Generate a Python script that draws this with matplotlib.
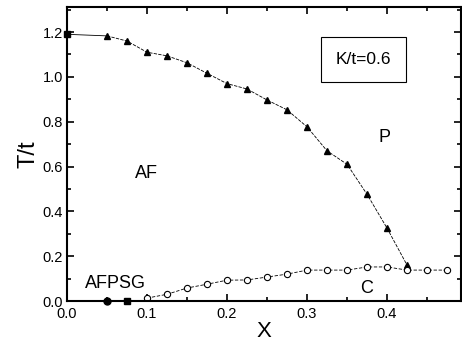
import matplotlib
matplotlib.use("Agg")
import matplotlib.pyplot as plt
from matplotlib.ticker import MultipleLocator

plt.rcParams['font.family'] = ['Liberation Sans', 'DejaVu Sans']

# AF -> P transition (filled triangles)
x_tn = [0.0, 0.05, 0.075, 0.1, 0.125, 0.15, 0.175, 0.2, 0.225, 0.25,
        0.275, 0.3, 0.325, 0.35, 0.375, 0.4, 0.425]
t_tn = [1.19, 1.183, 1.16, 1.11, 1.094, 1.063, 1.016, 0.97, 0.946, 0.897,
        0.853, 0.777, 0.67, 0.61, 0.476, 0.325, 0.16]

# spin glass / cluster boundary (open circles)
x_sg = [0.1, 0.125, 0.15, 0.175, 0.2, 0.225, 0.25, 0.275, 0.3, 0.325,
        0.35, 0.375, 0.4, 0.425, 0.45, 0.475]
t_sg = [0.013, 0.03, 0.058, 0.075, 0.093, 0.094, 0.107, 0.12, 0.138, 0.138,
        0.138, 0.152, 0.152, 0.138, 0.138, 0.138]

# AFPSG points on T=0
x_zero = [0.05, 0.075]
t_zero = [0.0, 0.0]

fig = plt.figure(figsize=(4.62, 3.43), dpi=100)
ax = fig.add_axes([0.145, 0.1224, 0.853, 0.8576])

ax.plot(x_tn[1:], t_tn[1:], color="black", lw=0.6, ls=(0, (4, 1.5)),
        marker="^", ms=5, mfc="black", mec="black")
ax.plot([x_tn[0], x_tn[1]], [t_tn[0], t_tn[1]], color="black", lw=0.6)
ax.plot(x_tn[0], t_tn[0], marker="s", ms=5, color="black", clip_on=False)

ax.plot(x_sg, t_sg, color="black", lw=0.6, ls=(0, (4, 2)),
        marker="o", ms=4.5, mfc="white", mec="black", mew=0.8)
ax.plot([0.04, 0.1], [0, 0], color="black", lw=1.2, clip_on=False)
ax.plot(x_zero[0], t_zero[0], marker="o", ms=5, color="black", clip_on=False)
ax.plot(x_zero[1], t_zero[1], marker="s", ms=4, color="black", clip_on=False)

ax.set_xlim(0.0, 0.4925)
ax.set_ylim(0.0, 1.3125)
ax.xaxis.set_major_locator(MultipleLocator(0.1))
ax.xaxis.set_minor_locator(MultipleLocator(0.05))
ax.yaxis.set_major_locator(MultipleLocator(0.2))
ax.yaxis.set_minor_locator(MultipleLocator(0.1))
ax.tick_params(which="both", direction="in", top=True, right=True,
               width=1.2, labelsize=10.5)
ax.tick_params(axis="y", pad=3)
ax.tick_params(axis="x", pad=4)
ax.tick_params(which="major", length=5)
ax.tick_params(which="minor", length=3)
for s in ax.spines.values():
    s.set_linewidth(1.5)

ax.set_xlabel("X", fontsize=16, labelpad=0)
ax.set_ylabel("T/t", fontsize=17, labelpad=2)

ax.text(0.099, 0.571, "AF", fontsize=13, ha="center", va="center")
ax.text(0.397, 0.728, "P", fontsize=13, ha="center", va="center")
ax.text(0.06, 0.08, "AFPSG", fontsize=13, ha="center", va="center")
ax.text(0.375, 0.058, "C", fontsize=13, ha="center", va="center")
ax.text(0.37, 1.078, "K/t=0.6", fontsize=12.5, ha="center", va="center",
        bbox=dict(boxstyle="square,pad=0.85", fc="white", ec="black", lw=0.8))

fig.savefig("out.png", dpi=100)
